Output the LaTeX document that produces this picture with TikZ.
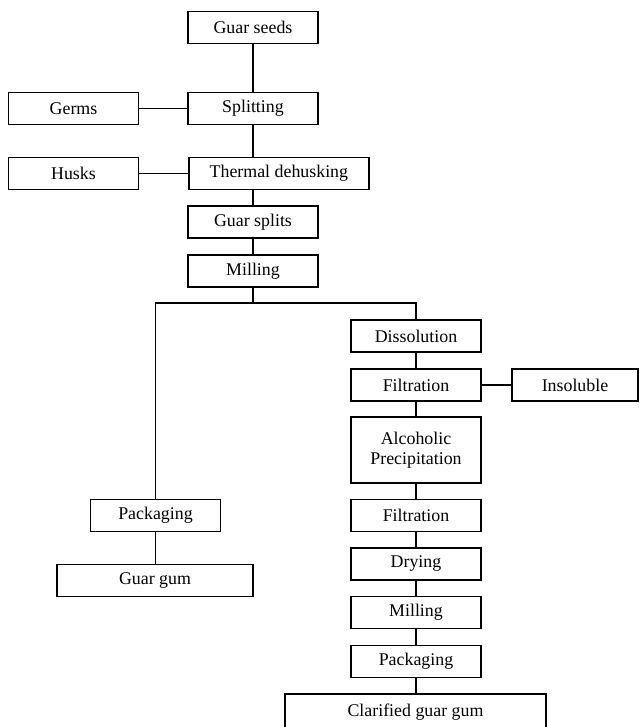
\documentclass[tikz,border=0pt]{standalone}
\usepackage{fontspec}
\setmainfont{Liberation Serif}
\usetikzlibrary{positioning}

\begin{document}
\begin{tikzpicture}[x=0.025cm,y=-0.025cm,
 font=\fontsize{12.7}{14.5}\selectfont,
 stepbox/.style={draw,line width=1.2pt,minimum width=3.25cm,minimum height=0.8cm,
   inner sep=0pt,align=center},
 link/.style={line width=1.2pt}]
\path[use as bounding box] (0,0) rectangle (639,727);
% main trunk
\node[stepbox] (seeds) at (253,27.5) {Guar seeds};
\node[stepbox] (split) at (253,108.5) {Splitting};
\node[stepbox] (germs) at (73.5,108.5) {Germs};
\node[stepbox,minimum width=4.5cm,anchor=west] (dehusk) at (188,173.5) {Thermal dehusking};
\node[stepbox] (husks) at (73.5,173.5) {Husks};
\node[stepbox] (gsplits) at (253,222) {Guar splits};
\node[stepbox] (mill) at (253,271) {Milling};
\coordinate (fork) at (253,303);
% left branch
\node[stepbox] (packL) at (155.5,515.5) {Packaging};
\node[stepbox,minimum width=4.9cm] (gum) at (155,580.5) {Guar gum};
% right branch
\node[stepbox] (diss) at (416,336) {Dissolution};
\node[stepbox] (filtA) at (416,385) {Filtration};
\node[stepbox,minimum width=3.15cm] (insol) at (575,385) {Insoluble};
\node[stepbox,minimum height=1.65cm] (alc) at (416,450) {Alcoholic\\Precipitation};
\node[stepbox] (filtB) at (416,515.5) {Filtration};
\node[stepbox] (dry) at (416,564) {Drying};
\node[stepbox] (millB) at (416,612.5) {Milling};
\node[stepbox] (packR) at (416,661.5) {Packaging};
\node[stepbox,minimum width=6.525cm,minimum height=0.9cm] (clar) at (415.5,712) {Clarified guar gum};
% connectors
\draw[link] (seeds) -- (split);
\draw[link] (germs) -- (split);
\draw[link] (split.south) -- (split.south |- dehusk.north);
\draw[link] (husks) -- (dehusk);
\draw[link] (gsplits.north |- dehusk.south) -- (gsplits.north);
\draw[link] (gsplits) -- (mill);
\draw[link] (mill) -- (fork);
\draw[link] (packL.north) |- (fork) -| (diss.north);
\draw[link] (packL) -- (gum.north -| packL);
\draw[link] (diss) -- (filtA);
\draw[link] (filtA) -- (insol);
\draw[link] (filtA) -- (alc);
\draw[link] (alc) -- (filtB);
\draw[link] (filtB) -- (dry);
\draw[link] (dry) -- (millB);
\draw[link] (millB) -- (packR);
\draw[link] (packR) -- (clar.north -| packR);
\end{tikzpicture}
\end{document}
